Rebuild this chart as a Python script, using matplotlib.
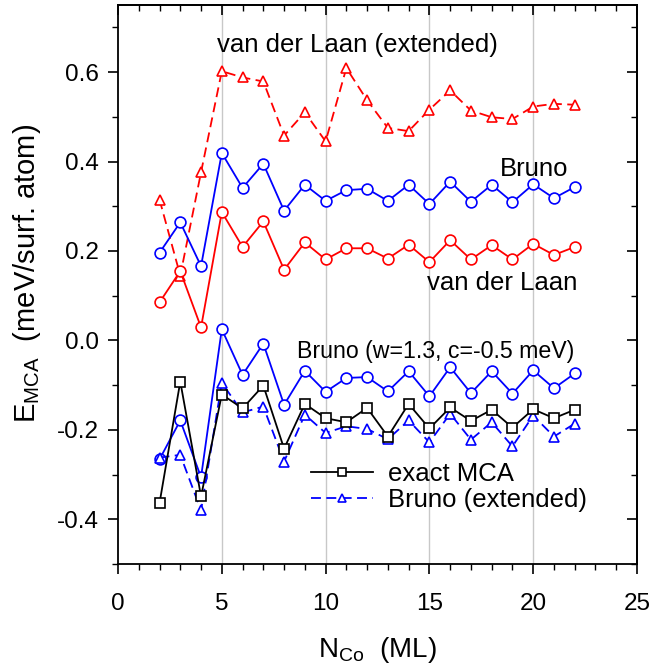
import matplotlib
matplotlib.use("Agg")
import matplotlib.pyplot as plt
from matplotlib.ticker import MultipleLocator, FormatStrFormatter, NullFormatter

plt.rcParams['font.family'] = ['Liberation Sans', 'DejaVu Sans']
plt.rcParams['mathtext.fontset'] = 'custom'
plt.rcParams['mathtext.rm'] = 'Liberation Sans'
plt.rcParams['mathtext.it'] = 'Liberation Sans'

n_co = list(range(2, 23))

vdl_ext = [0.315, 0.145, 0.376, 0.602, 0.588, 0.579, 0.458, 0.510, 0.445, 0.609, 0.537,
           0.475, 0.468, 0.516, 0.559, 0.514, 0.499, 0.495, 0.523, 0.529, 0.527]
bruno = [0.196, 0.264, 0.166, 0.419, 0.341, 0.395, 0.290, 0.348, 0.312, 0.336, 0.339,
         0.312, 0.348, 0.305, 0.355, 0.310, 0.348, 0.309, 0.349, 0.318, 0.343]
vdl = [0.085, 0.155, 0.029, 0.287, 0.209, 0.266, 0.158, 0.219, 0.181, 0.206, 0.206,
       0.183, 0.214, 0.175, 0.224, 0.181, 0.213, 0.181, 0.216, 0.191, 0.209]
bruno_wc = [-0.266, -0.179, -0.306, 0.025, -0.077, -0.007, -0.144, -0.068, -0.115, -0.084, -0.082,
            -0.114, -0.069, -0.125, -0.060, -0.118, -0.069, -0.119, -0.067, -0.107, -0.074]
exact = [-0.364, -0.092, -0.349, -0.121, -0.152, -0.101, -0.242, -0.142, -0.174, -0.183, -0.151,
         -0.215, -0.142, -0.197, -0.150, -0.180, -0.155, -0.195, -0.154, -0.174, -0.155]
bruno_ext = [-0.262, -0.256, -0.380, -0.095, -0.161, -0.148, -0.271, -0.166, -0.207, -0.192, -0.198,
             -0.221, -0.179, -0.228, -0.164, -0.222, -0.183, -0.237, -0.168, -0.215, -0.186]

W, H = 651, 669
fig = plt.figure(figsize=(W / 100, H / 100), dpi=100)
ax = fig.add_axes([118 / W, 1 - 564 / H, (637 - 118) / W, (564 - 5) / H])

TFS = 17.5   # tick labels
AFS = 18.5   # annotations / legend
lw = 1.3
ms = 7.8
dash = [5.5, 3]

for xv in [5, 10, 15, 20]:
    ax.axvline(xv, color='#c8c8c8', lw=1.0, zorder=0)

ax.plot(n_co, vdl_ext, color='red', lw=lw, dashes=dash, marker='^', ms=ms,
        mfc='white', mec='red', mew=1.2, zorder=3)
ax.plot(n_co, bruno, color='blue', lw=lw, marker='o', ms=ms,
        mfc='white', mec='blue', mew=1.2, zorder=3)
ax.plot(n_co, vdl, color='red', lw=lw, marker='o', ms=ms,
        mfc='white', mec='red', mew=1.2, zorder=3)
ax.plot(n_co, bruno_wc, color='blue', lw=lw, marker='o', ms=ms,
        mfc='white', mec='blue', mew=1.2, zorder=3)
l1, = ax.plot(n_co, exact, color='black', lw=lw, marker='s', ms=6.8,
              mfc='white', mec='black', mew=1.2, zorder=4, label='exact MCA')
l2, = ax.plot(n_co, bruno_ext, color='blue', lw=lw, dashes=dash, marker='^', ms=ms,
              mfc='white', mec='blue', mew=1.2, zorder=3, label='Bruno (extended)')

ax.set_xlim(0, 25)
ax.set_ylim(-0.5, 0.75)

ax.xaxis.set_major_locator(MultipleLocator(5))
ax.xaxis.set_minor_locator(MultipleLocator(1))
ax.yaxis.set_major_locator(MultipleLocator(0.2))
ax.yaxis.set_minor_locator(MultipleLocator(0.1))
ax.yaxis.set_major_formatter(FormatStrFormatter('%.1f'))

ax.tick_params(axis='x', which='major', direction='out', length=7, width=1.2,
               pad=14, labelsize=TFS)
ax.tick_params(axis='x', which='minor', direction='out', length=4, width=1.0)
ax.tick_params(axis='y', which='major', direction='out', length=7, width=1.2,
               pad=7, labelsize=TFS)
ax.tick_params(axis='y', which='minor', direction='out', length=4, width=1.0)
for sp in ax.spines.values():
    sp.set_linewidth(1.3)

secx = ax.secondary_xaxis('top')
secx.xaxis.set_major_locator(MultipleLocator(5))
secx.xaxis.set_minor_locator(MultipleLocator(1))
secx.tick_params(axis='x', which='major', direction='in', length=7, width=1.2, labeltop=False)
secx.tick_params(axis='x', which='minor', direction='in', length=4, width=1.0)
secx.xaxis.set_major_formatter(NullFormatter())
secx.spines['top'].set_linewidth(1.3)

secy = ax.secondary_yaxis('right')
secy.yaxis.set_major_locator(MultipleLocator(0.2))
secy.yaxis.set_minor_locator(MultipleLocator(0.1))
secy.tick_params(axis='y', which='major', direction='in', length=7, width=1.2, labelright=False)
secy.tick_params(axis='y', which='minor', direction='in', length=4, width=1.0)
secy.yaxis.set_major_formatter(NullFormatter())
secy.spines['right'].set_linewidth(1.3)

ax.set_xlabel(r'$\mathregular{N_{Co}}$  (ML)', fontsize=20)
ax.xaxis.set_label_coords(0.5, -0.127)
ax.set_ylabel(r'$\mathregular{E_{MCA}}$  (meV/surf. atom)', fontsize=21)
ax.yaxis.set_label_coords(-0.145, 0.52)

ax.text(4.79, 0.646, 'van der Laan (extended)', fontsize=AFS, va='baseline', ha='left')
ax.text(18.38, 0.367, 'Bruno', fontsize=AFS, va='baseline', ha='left')
ax.text(14.9, 0.112, 'van der Laan', fontsize=AFS, va='baseline', ha='left')
ax.text(8.64, -0.039, 'Bruno (w=1.3, c=-0.5 meV)', fontsize=16.7, va='baseline', ha='left')

ax.legend(handles=[l1, l2], loc='upper left', bbox_to_anchor=(0.372, 0.183),
          frameon=False, fontsize=AFS, handlelength=2.4, handletextpad=0.6,
          labelspacing=0.1, borderpad=0, borderaxespad=0, markerscale=0.75)

fig.savefig('out.png', dpi=100)
